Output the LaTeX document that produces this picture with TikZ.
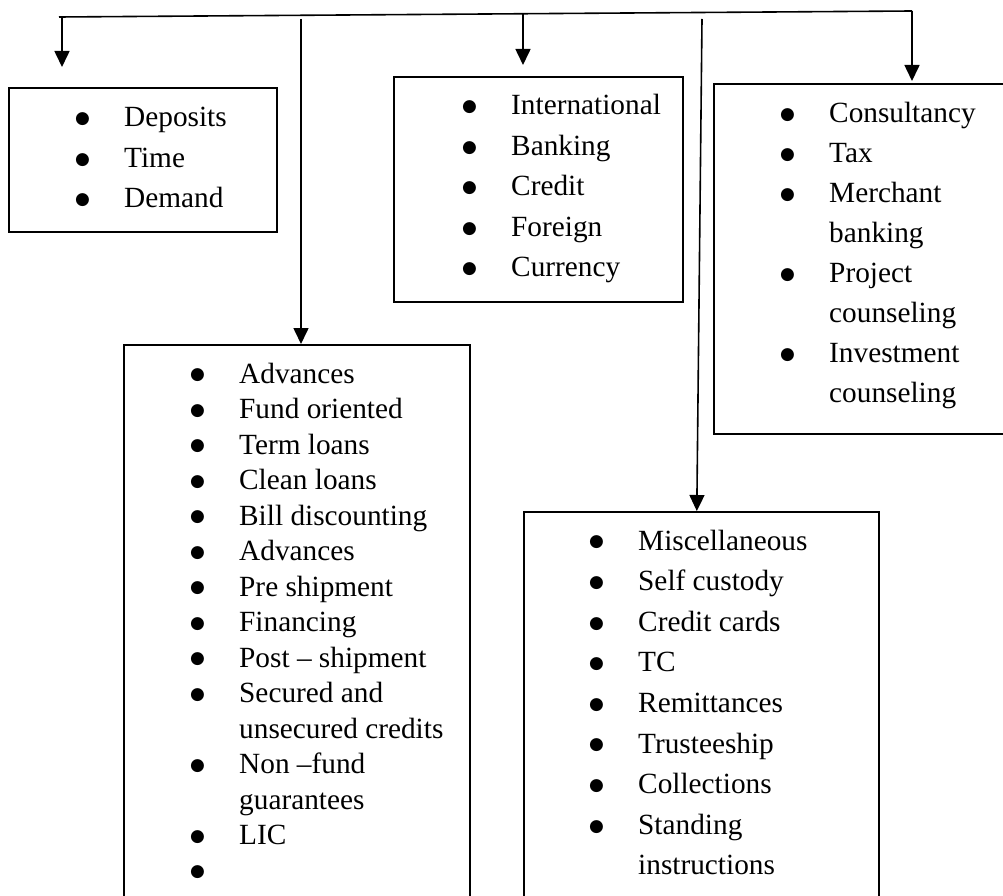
\documentclass[tikz,border=0pt]{standalone}
\usepackage{fontspec}
\setmainfont{Liberation Serif}
\newfontfamily\symfont{DejaVu Sans}
\usetikzlibrary{arrows.meta}

% a round list bullet, set small and lifted to mid x-height
\newcommand\bdot{\hspace*{-2pt}\raisebox{3.2pt}{\fontsize{17}{17}\symfont ●}}
% one bulleted row, and a continuation row without a bullet
\newcommand\bitem[1]{\bdot & #1\\}
\newcommand\bcont[1]{& #1\\}
\newenvironment{blist}{\begin{tabular}[t]{@{}p{47pt}@{}l@{}}}{\end{tabular}}

\tikzset{
  wire/.style={line width=1.6pt, black},
  arr/.style={wire, -{Triangle[width=15pt,length=16pt]}},
  box/.style={draw, line width=1.6pt, rectangle, anchor=north west, inner sep=0pt},
  list/.style={anchor=base west, inner sep=0pt, align=left},
}

\begin{document}
\begin{tikzpicture}[x=1pt, y=-1pt]
  \clip (0,0) rectangle (1003,896);
  \fill[white] (0,0) rectangle (1003,896);

  % category boxes
  \node[box, minimum width=268pt, minimum height=144pt] (deposits) at (8,87) {};
  \node[box, minimum width=289pt, minimum height=225pt] (intl) at (393,76) {};
  \node[box, minimum width=310pt, minimum height=350pt] (consult) at (713,83) {};
  \node[box, minimum width=346pt, minimum height=580pt] (advances) at (123,344) {};
  \node[box, minimum width=355pt, minimum height=420pt] (misc) at (523,511) {};

  % bullet lists
  \node[list] (depositsList) at (77,127) {\fontsize{29.3}{40.5}\selectfont
    \begin{blist}
      \bitem{Deposits}
      \bitem{Time}
      \bitem{Demand}
    \end{blist}};
  \node[list] (intlList) at (464,115) {\fontsize{29.3}{40.5}\selectfont
    \begin{blist}
      \bitem{International}
      \bitem{Banking}
      \bitem{Credit}
      \bitem{Foreign}
      \bitem{Currency}
    \end{blist}};
  \node[list] (consultList) at (782,123) {\fontsize{29.3}{40}\selectfont
    \begin{blist}
      \bitem{Consultancy}
      \bitem{Tax}
      \bitem{Merchant}
      \bcont{banking}
      \bitem{Project}
      \bcont{counseling}
      \bitem{Investment}
      \bcont{counseling}
    \end{blist}};
  \node[list] (advancesList) at (192,383) {\fontsize{29.3}{35.5}\selectfont
    \begin{blist}
      \bitem{Advances}
      \bitem{Fund oriented}
      \bitem{Term loans}
      \bitem{Clean loans}
      \bitem{Bill discounting}
      \bitem{Advances}
      \bitem{Pre shipment}
      \bitem{Financing}
      \bitem{Post – shipment}
      \bitem{Secured and}
      \bcont{unsecured credits}
      \bitem{Non –fund}
      \bcont{guarantees}
      \bitem{LIC}
      \bitem{}
    \end{blist}};
  \node[list] (miscList) at (591,550) {\fontsize{29.3}{40.6}\selectfont
    \begin{blist}
      \bitem{Miscellaneous}
      \bitem{Self custody}
      \bitem{Credit cards}
      \bitem{TC}
      \bitem{Remittances}
      \bitem{Trusteeship}
      \bitem{Collections}
      \bitem{Standing}
      \bcont{instructions}
    \end{blist}};

  % junctions on the top bar and free arrow ends
  \coordinate (j1) at (62,17);
  \coordinate (j2) at (301,19);
  \coordinate (j3) at (523,14);
  \coordinate (j4) at (702,19);
  \coordinate (j5) at (912,11);
  \coordinate (tip1) at (62,67);
  \coordinate (tip3) at (523,65);
  \coordinate (tip5) at (912,81);

  % top bar with its arrows
  \draw[wire] (59,17) -- (j5);
  \draw[arr] (j1) -- (tip1);
  \draw[arr] (j5) -- (tip5);
  \draw[arr] (j3) -- (tip3);
  \draw[arr] (j2) -- (j2 |- advances.north);
  \draw[arr] (j4) -- ([xshift=-4.5pt]misc.north);
\end{tikzpicture}
\end{document}
